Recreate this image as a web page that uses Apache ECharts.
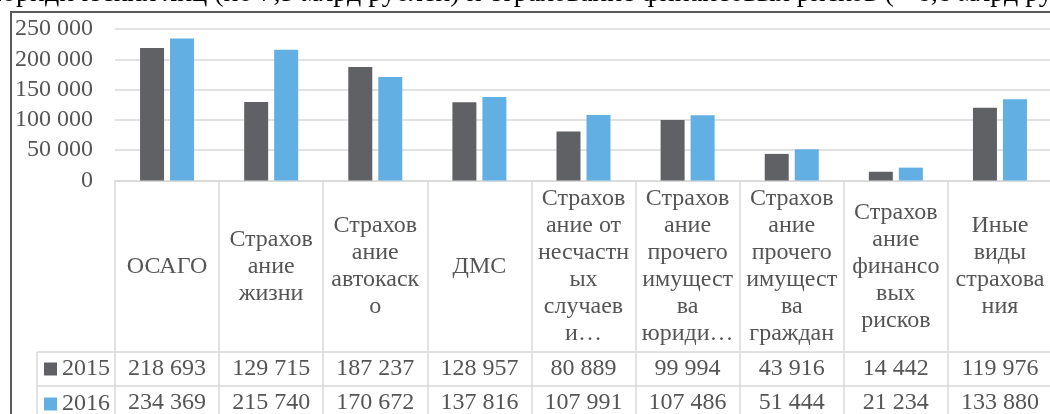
<!DOCTYPE html>
<html>
<head>
<meta charset="utf-8">
<script src="https://cdn.jsdelivr.net/npm/echarts@6/dist/echarts.min.js"></script>
<style>
  html, body { margin: 0; padding: 0; background: #fff; }
  #chart { width: 1050px; height: 414px; }
</style>
</head>
<body>
<div id="chart"></div>
<script>
// Category names, wrapped the way they appear in the table header row
const categories = [
  'ОСАГО',
  'Страхов\nание\nжизни',
  'Страхов\nание\nавтокаск\nо',
  'ДМС',
  'Страхов\nание от\nнесчастн\nых\nслучаев\nи…',
  'Страхов\nание\nпрочего\nимущест\nва\nюриди…',
  'Страхов\nание\nпрочего\nимущест\nва\nграждан',
  'Страхов\nание\nфинансо\nвых\nрисков',
  'Иные\nвиды\nстрахова\nния'
];
const years = ['2015', '2016'];
const values2015 = [218693, 129715, 187237, 128957, 80889, 99994, 43916, 14442, 119976];
const values2016 = [234369, 215740, 170672, 137816, 107991, 107486, 51444, 21234, 133880];
const yMin = 0, yMax = 250000, yStep = 50000;
const headerText = 'юридических лиц (по 7,5 млрд рублей) и страхование финансовых рисков (+ 6,8 млрд рублей).';

const FONT = '"Liberation Serif", "Times New Roman", serif';
const TEXT = '#555555';
const GRID_LINE = '#d9d9d9';
const FS = 24;
const fmt = n => String(n).replace(/\B(?=(\d{3})+(?!\d))/g, ' ');

const chart = echarts.init(document.getElementById('chart'), null, { renderer: 'canvas' });

const labelBase = { fontFamily: FONT, fontSize: FS, color: TEXT, interval: 0, verticalAlign: 'middle' };

chart.setOption({
  animation: false,
  backgroundColor: '#fff',
  grid: { left: 115, right: -2, top: 29, bottom: 233.5, containLabel: false, outerBoundsMode: 'none' },
  legend: {
    data: years,
    orient: 'vertical',
    left: 44,
    top: 357,
    padding: 0,
    height: 80,
    icon: 'rect',
    itemWidth: 13,
    itemHeight: 13,
    itemGap: 11,
    textStyle: { fontFamily: FONT, fontSize: FS, color: TEXT, lineHeight: 23 }
  },
  xAxis: [
    {
      type: 'category',
      position: 'bottom',
      data: categories,
      axisLine: { show: true, lineStyle: { color: GRID_LINE, width: 1.5 } },
      axisTick: { show: true, interval: 0, length: 240, lineStyle: { color: GRID_LINE, width: 1.5 } },
      axisLabel: Object.assign({}, labelBase, { margin: 86, lineHeight: 27, align: 'center' })
    },
    {
      // table row: 2015 values
      type: 'category',
      position: 'bottom',
      data: categories,
      axisLine: { show: false },
      axisTick: { show: false },
      axisLabel: Object.assign({}, labelBase, { margin: 188, formatter: (v, i) => fmt(values2015[i]) })
    },
    {
      // table row: 2016 values
      type: 'category',
      position: 'bottom',
      data: categories,
      axisLine: { show: false },
      axisTick: { show: false },
      axisLabel: Object.assign({}, labelBase, { margin: 222, formatter: (v, i) => fmt(values2016[i]) })
    }
  ],
  yAxis: {
    type: 'value',
    min: yMin,
    max: yMax,
    interval: yStep,
    axisLine: { show: false },
    axisTick: { show: false },
    axisLabel: { fontFamily: FONT, fontSize: FS, color: TEXT, margin: 22, formatter: v => fmt(v) },
    splitLine: { lineStyle: { color: GRID_LINE, width: 1.5 } }
  },
  series: [
    {
      name: years[0], type: 'bar', data: values2015, xAxisIndex: 0,
      barWidth: 24, barGap: '25%',
      itemStyle: { color: '#606165' }
    },
    {
      name: years[1], type: 'bar', data: values2016, xAxisIndex: 0,
      barWidth: 24,
      itemStyle: { color: '#62afe3' }
    }
  ],
  graphic: [
    // running text of the page above the chart frame
    { type: 'text', left: -5, top: -20, style: { text: headerText, font: '28px ' + FONT, fill: '#000' }, silent: true },
    // chart frame
    { type: 'line', shape: { x1: 10, y1: 12, x2: 1050, y2: 12 }, style: { stroke: '#5a5a5a', lineWidth: 2 } },
    { type: 'line', shape: { x1: 11, y1: 11, x2: 11, y2: 414 }, style: { stroke: '#5a5a5a', lineWidth: 2 } },
    // data table rules
    { type: 'line', shape: { x1: 37, y1: 352, x2: 1052, y2: 352 }, style: { stroke: GRID_LINE, lineWidth: 1.5 } },
    { type: 'line', shape: { x1: 37, y1: 386, x2: 1052, y2: 386 }, style: { stroke: GRID_LINE, lineWidth: 1.5 } },
    { type: 'line', shape: { x1: 37, y1: 352, x2: 37, y2: 414 }, style: { stroke: GRID_LINE, lineWidth: 1.5 } }
  ]
});
</script>
</body>
</html>
